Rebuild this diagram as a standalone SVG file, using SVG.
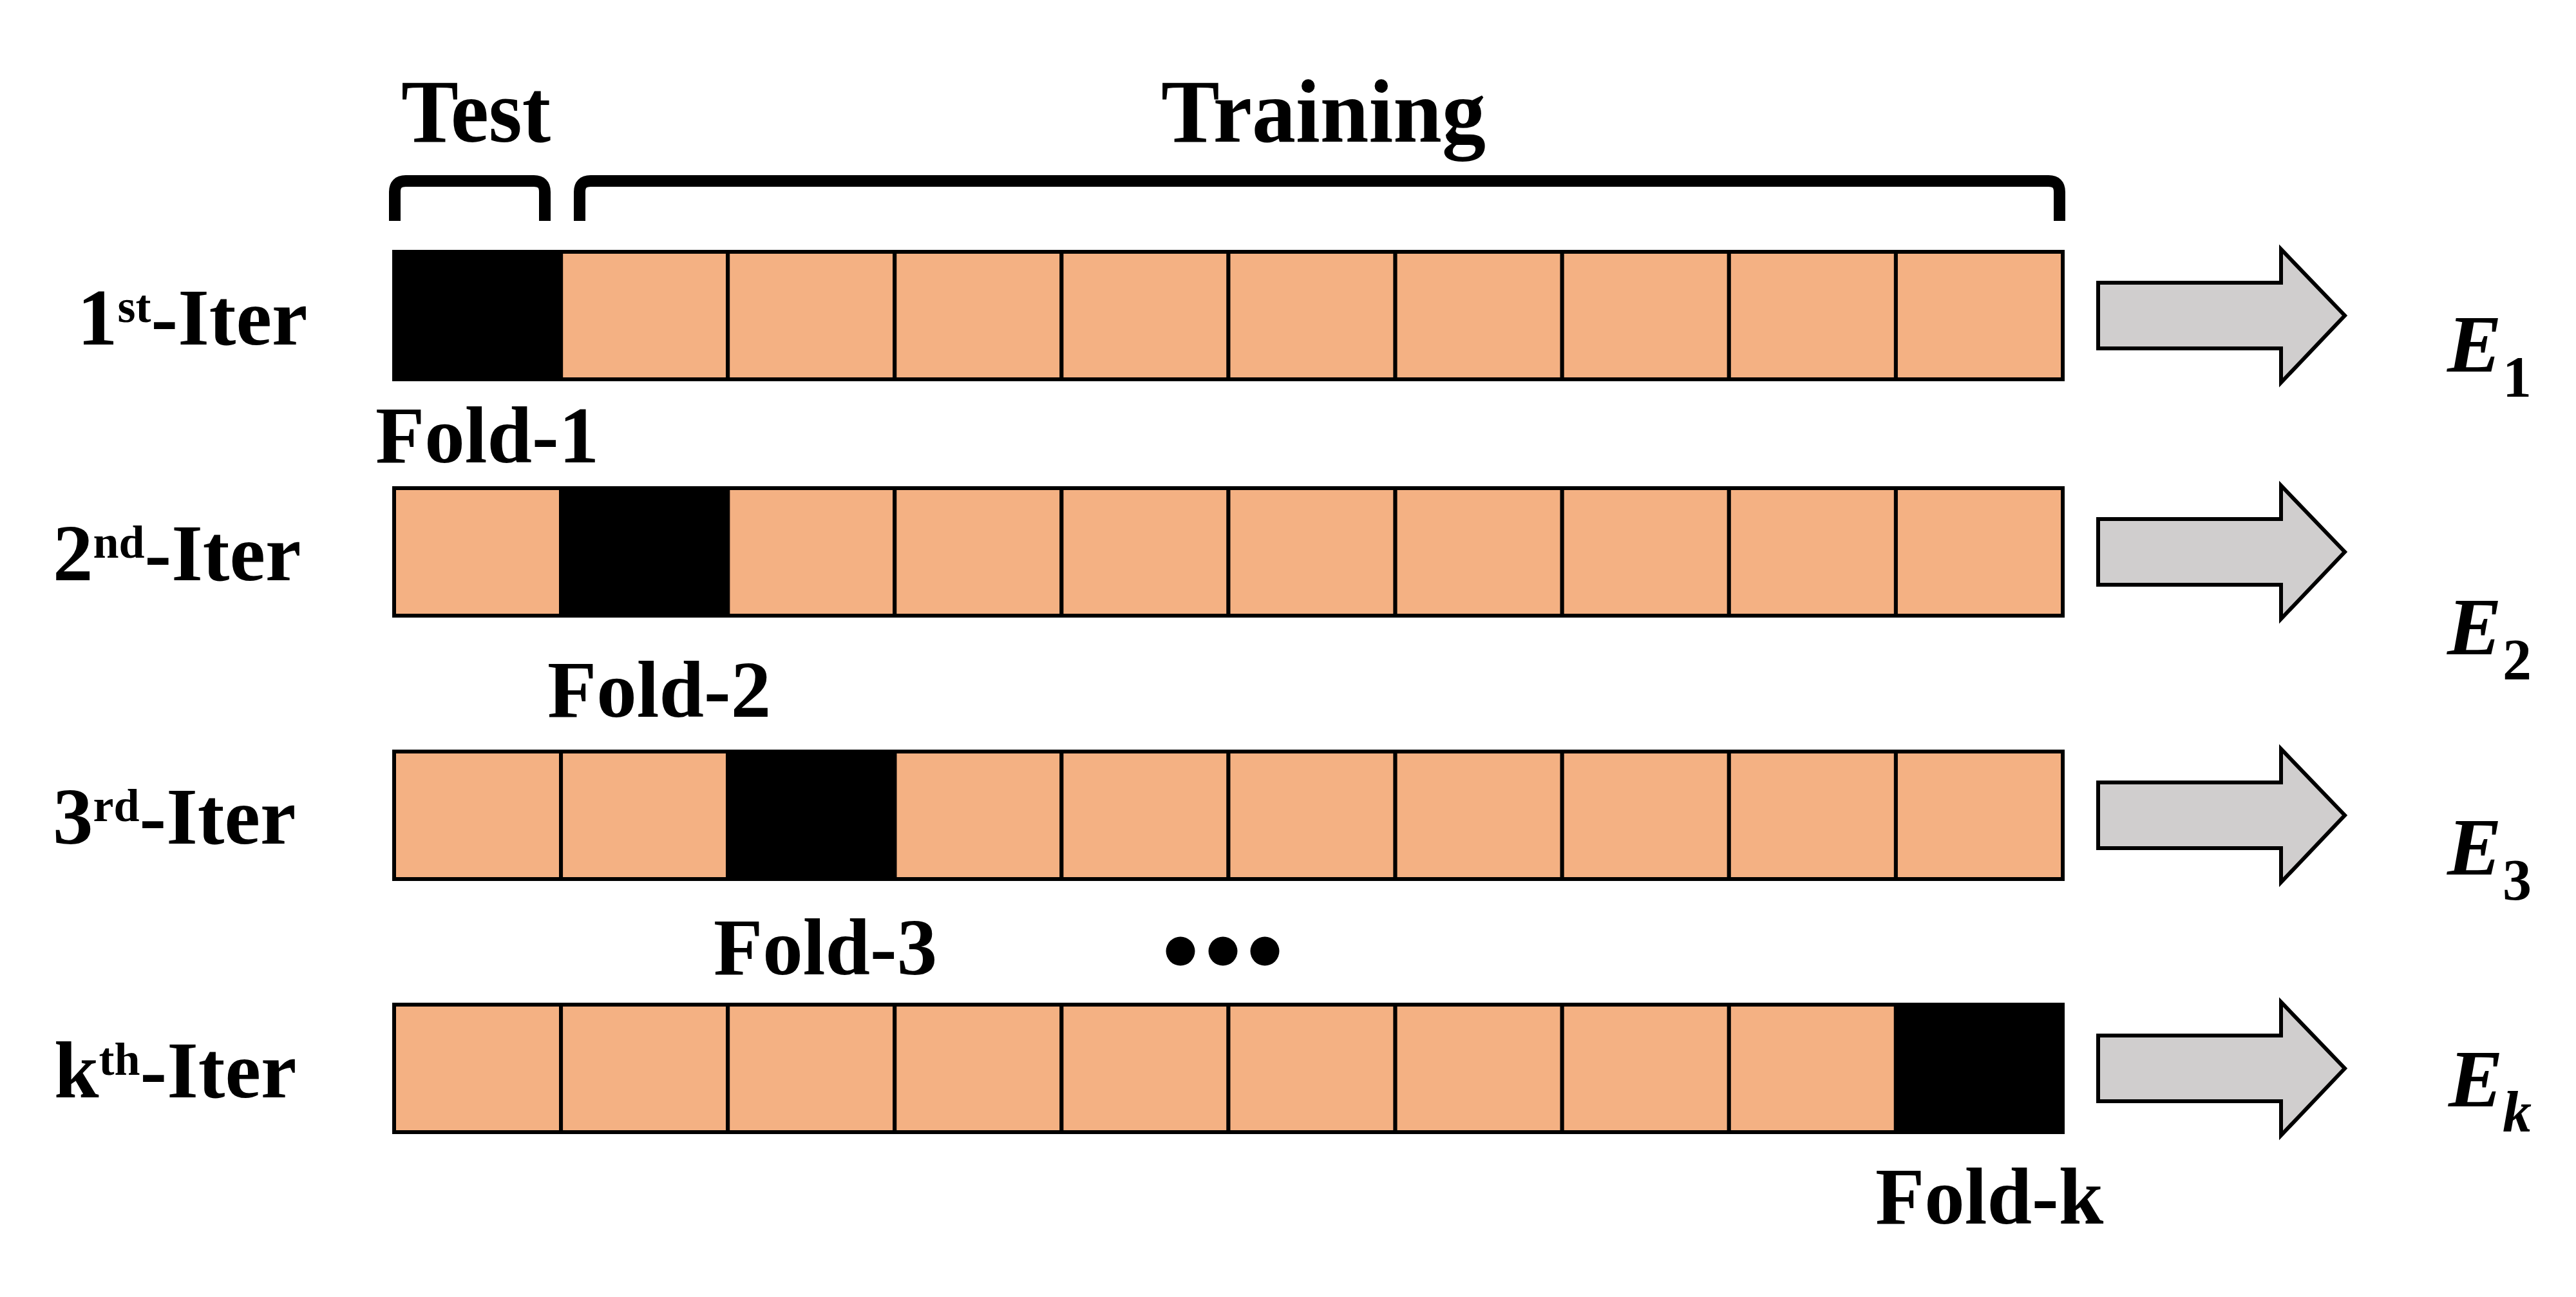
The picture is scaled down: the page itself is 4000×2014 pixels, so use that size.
<svg xmlns="http://www.w3.org/2000/svg" width="4000" height="2014" viewBox="0 0 4000 2014">
<style>
.t{font-family:"Liberation Serif","Times New Roman",serif;font-weight:bold;fill:#000}
.lbl{font-size:125px}
.sup{font-size:72px}
.big{font-size:139px}
.ei{font-family:"Liberation Serif","Times New Roman",serif;font-weight:bold;font-style:italic;font-size:127px;fill:#000}
.sub{font-family:"Liberation Serif","Times New Roman",serif;font-weight:bold;font-size:90px;fill:#000}
.subi{font-style:italic}
.cell{fill:#F4B183;stroke:#000;stroke-width:6}
.test{fill:#000;stroke:#000;stroke-width:6}
.brk{fill:none;stroke:#000;stroke-width:18;stroke-linejoin:round}
.arr{fill:#D0CECE;stroke:#000;stroke-width:6;stroke-linejoin:miter}
</style>
<defs>
<g id="rowcells">
<rect class="cell" x="612" y="0" width="259.1" height="198"/>
<rect class="cell" x="871.1" y="0" width="259.1" height="198"/>
<rect class="cell" x="1130.2" y="0" width="259.1" height="198"/>
<rect class="cell" x="1389.3" y="0" width="259.1" height="198"/>
<rect class="cell" x="1648.4" y="0" width="259.1" height="198"/>
<rect class="cell" x="1907.5" y="0" width="259.1" height="198"/>
<rect class="cell" x="2166.6" y="0" width="259.1" height="198"/>
<rect class="cell" x="2425.7" y="0" width="259.1" height="198"/>
<rect class="cell" x="2684.8" y="0" width="259.1" height="198"/>
<rect class="cell" x="2943.9" y="0" width="259.1" height="198"/>
</g>
<polygon id="arrow" class="arr" points="3258,-51 3542,-51 3542,-103 3641,0 3542,104 3542,51 3258,51"/>
</defs>

<g id="header">
<text class="t big" x="623" y="220" textLength="232" lengthAdjust="spacingAndGlyphs">Test</text>
<text class="t big" x="1803" y="220" textLength="504" lengthAdjust="spacingAndGlyphs">Training</text>
<path class="brk" d="M613,343 V298 Q613,281 630,281 H829 Q846,281 846,298 V343"/>
<path class="brk" d="M900,343 V298 Q900,281 917,281 H3181 Q3198,281 3198,298 V343"/>
</g>

<g id="iter-1">
<text class="t lbl" x="120" y="535">1<tspan class="sup" dy="-35">st</tspan><tspan dy="35">-Iter</tspan></text>
<g transform="translate(0,391)">
<use href="#rowcells"/>
<rect class="test" x="612" y="0" width="259.1" height="198"/>
</g>
<text class="t lbl" x="583" y="718">Fold-1</text>
</g>

<g id="iter-2">
<text class="t lbl" x="82" y="901">2<tspan class="sup" dy="-35">nd</tspan><tspan dy="35">-Iter</tspan></text>
<g transform="translate(0,758)">
<use href="#rowcells"/>
<rect class="test" x="871.1" y="0" width="259.1" height="198"/>
</g>
<text class="t lbl" x="850" y="1113">Fold-2</text>
</g>

<g id="iter-3">
<text class="t lbl" x="82" y="1310">3<tspan class="sup" dy="-35">rd</tspan><tspan dy="35">-Iter</tspan></text>
<g transform="translate(0,1167)">
<use href="#rowcells"/>
<rect class="test" x="1130.2" y="0" width="259.1" height="198"/>
</g>
<text class="t lbl" x="1108" y="1513">Fold-3</text>
</g>

<g id="ellipsis">
<circle cx="1833" cy="1477" r="22.5"/>
<circle cx="1899" cy="1477" r="22.5"/>
<circle cx="1964" cy="1477" r="22.5"/>
</g>

<g id="iter-k">
<text class="t lbl" x="84" y="1704">k<tspan class="sup" dy="-35">th</tspan><tspan dy="35">-Iter</tspan></text>
<g transform="translate(0,1560)">
<use href="#rowcells"/>
<rect class="test" x="2943.9" y="0" width="259.1" height="198"/>
</g>
<text class="t lbl" x="2912" y="1900">Fold-k</text>
</g>

<g id="connectors">
<use href="#arrow" transform="translate(0,490)"/>
<use href="#arrow" transform="translate(0,857)"/>
<use href="#arrow" transform="translate(0,1266)"/>
<use href="#arrow" transform="translate(0,1659)"/>
</g>

<g id="error-1"><text class="ei" x="3800" y="577">E</text><text class="sub" x="3886" y="616">1</text></g>
<g id="error-2"><text class="ei" x="3800" y="1016">E</text><text class="sub" x="3886" y="1055">2</text></g>
<g id="error-3"><text class="ei" x="3800" y="1358">E</text><text class="sub" x="3886" y="1397">3</text></g>
<g id="error-k"><text class="ei" x="3802" y="1718">E</text><text class="sub subi" x="3886" y="1757">k</text></g>
</svg>
